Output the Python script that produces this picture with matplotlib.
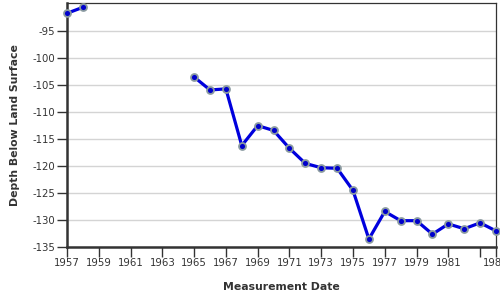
import numpy as np
import matplotlib
matplotlib.use('Agg')
import matplotlib.pyplot as plt

# water level readings (feet below land surface)
years = [1957, 1958, 1965, 1966, 1967, 1968, 1969, 1970, 1971, 1972, 1973,
         1974, 1975, 1976, 1977, 1978, 1979, 1980, 1981, 1982, 1983, 1984]
depth = [-91.8, -90.7, -103.6, -106.0, -105.8, -116.3, -112.6, -113.5, -116.8,
         -119.6, -120.4, -120.5, -124.6, -133.6, -128.5, -130.2, -130.2, -132.7,
         -130.8, -131.7, -130.6, -132.1]
xticks = [1957, 1959, 1961, 1963, 1965, 1967, 1969, 1971, 1973, 1975, 1977,
          1979, 1981, 1983, 1984]
xlabels = ['1957', '1959', '1961', '1963', '1965', '1967', '1969', '1971',
           '1973', '1975', '1977', '1979', '1981', '', '1984']
yticks = [-135, -130, -125, -120, -115, -110, -105, -100, -95]

txt = '#333333'
fig = plt.figure(figsize=(5, 3), dpi=100)
ax = fig.add_axes([0.134, 0.178, 0.858, 0.812])

# split into runs of consecutive years so the gap is not joined
x = np.array(years, dtype=float)
y = np.array(depth)
breaks = np.where(np.diff(x) > 1)[0] + 1
for xs, ys in zip(np.split(x, breaks), np.split(y, breaks)):
    ax.plot(xs, ys, color='#0000dd', lw=2.3, marker='o', ms=5,
            mfc='#0000cc', mec='#8a9aa0', mew=1.3, zorder=3, clip_on=False)

ax.set_xlim(1957, 1984)
ax.set_ylim(-135, -89.9)
ax.set_xticks(xticks)
ax.set_xticklabels(xlabels)
ax.set_yticks(yticks)
ax.set_yticklabels([str(v) for v in yticks])
ax.yaxis.grid(True, color='#d4d4d4', lw=1)
ax.set_axisbelow(True)

for s in ['top', 'right']:
    ax.spines[s].set_linewidth(0.9)
    ax.spines[s].set_color(txt)
for s in ['left', 'bottom']:
    ax.spines[s].set_linewidth(1.8)
    ax.spines[s].set_color(txt)

ax.tick_params(axis='both', colors=txt, labelsize=7.3, length=7, width=1, pad=1.5)
ax.set_xlabel('Measurement Date', fontsize=7.8, fontweight='bold', color=txt, labelpad=10)
ax.set_ylabel('Depth Below Land Surface', fontsize=7.8, fontweight='bold', color=txt, labelpad=9)

fig.savefig('out.png', dpi=100)
